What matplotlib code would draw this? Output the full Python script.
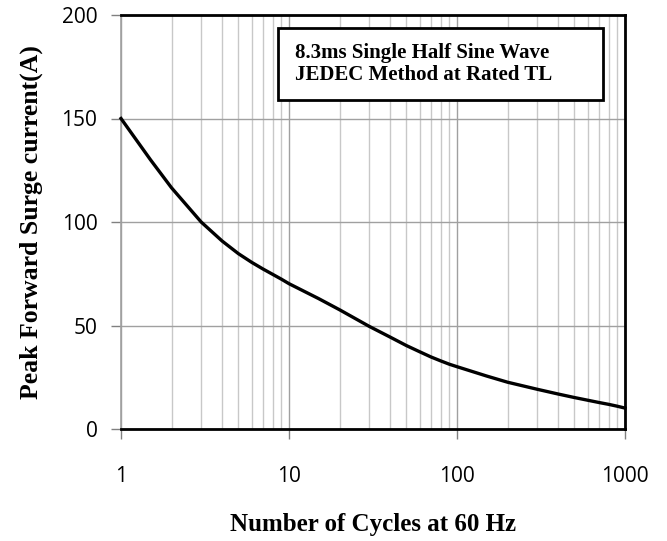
import matplotlib
matplotlib.use("Agg")
import matplotlib.pyplot as plt
from matplotlib.ticker import LogLocator, FixedLocator, NullFormatter
from matplotlib.patches import Rectangle

cycles = [1, 1.5, 2, 3, 4, 5, 6, 7, 8, 9, 10, 15, 20, 30, 40, 50, 60, 70, 80, 90,
          100, 150, 200, 300, 400, 500, 600, 700, 800, 900, 1000]
current = [150, 130, 116.5, 100, 90.8, 84.7, 80.5, 77.3, 74.7, 72.4, 70.2, 63, 57.6, 49.6,
           44.4, 40.3, 37.3, 34.8, 32.9, 31.3, 30.1, 25.6, 22.6, 19.2, 16.9, 15.2, 13.9,
           12.8, 11.9, 11.0, 10.1]

x_ticks = [1, 10, 100, 1000]
x_tick_labels = ["1", "10", "100", "1000"]
y_ticks = [0, 50, 100, 150, 200]

fig = plt.figure(figsize=(6.67, 5.41), dpi=100)
W, H = 667, 541
left, right, top, bottom = 121, 625, 15, 429
ax = fig.add_axes([left / W, 1 - bottom / H, (right - left) / W, (bottom - top) / H])

ax.set_xscale("log")
ax.set_xlim(1, 1000)
ax.set_ylim(0, 200)

ax.xaxis.set_major_locator(FixedLocator(x_ticks))
ax.set_xticklabels(x_tick_labels)
ax.xaxis.set_minor_locator(LogLocator(base=10, subs=range(2, 10)))
ax.xaxis.set_minor_formatter(NullFormatter())
ax.set_yticks(y_ticks)

ax.grid(True, which="major", color="#a0a0a0", linewidth=1.0)
ax.grid(True, which="minor", axis="x", color="#c8c8c8", linewidth=1.0)
ax.set_axisbelow(True)

ax.plot(cycles, current, color="black", linewidth=2.4, solid_joinstyle="round",
        zorder=3, clip_on=False)

for s in ["top", "right", "bottom"]:
    ax.spines[s].set_color("black")
    ax.spines[s].set_linewidth(2.0)
ax.spines["left"].set_color("#a0a0a0")
ax.spines["left"].set_linewidth(1.2)

ax.tick_params(axis="x", which="major", direction="out", length=7, width=1, color="#808080",
               pad=20, labelsize=15)
ax.tick_params(axis="x", which="minor", length=0)
ax.tick_params(axis="y", which="major", direction="out", length=7, width=1, color="#808080",
               pad=10, labelsize=15)
for lab in ax.get_xticklabels() + ax.get_yticklabels():
    lab.set_fontfamily("Open Sans")

ax.set_xlabel("Number of Cycles at 60 Hz", fontfamily="Liberation Serif", fontweight="bold",
              fontsize=18, labelpad=18)
ax.set_ylabel("Peak Forward Surge current(A)", fontfamily="Liberation Serif", fontweight="bold",
              fontsize=18.5, labelpad=13)

ax.text((295 - left) / (right - left), 1 - (64 - top) / (bottom - top),
        "8.3ms Single Half Sine Wave\nJEDEC Method at Rated TL",
        transform=ax.transAxes, ha="left", va="center", fontfamily="Liberation Serif",
        fontweight="bold", fontsize=15, linespacing=1.1, zorder=5)
bx0, by0, bx1, by1 = 278, 28, 603, 100
ax.add_patch(Rectangle(((bx0 - left) / (right - left), 1 - (by1 - top) / (bottom - top)),
                       (bx1 - bx0) / (right - left), (by1 - by0) / (bottom - top),
                       transform=ax.transAxes, facecolor="white", edgecolor="black",
                       linewidth=2.0, zorder=4))

fig.savefig("out.png", dpi=100)
